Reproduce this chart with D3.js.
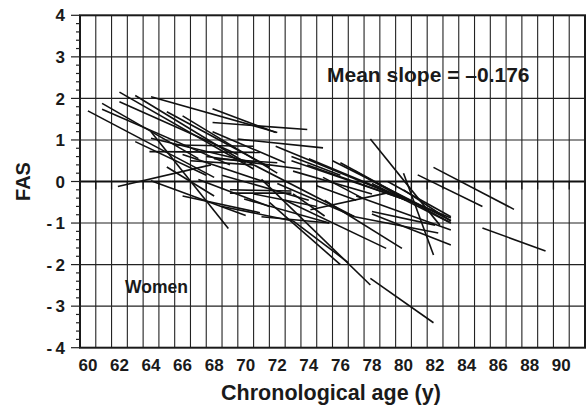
<!DOCTYPE html>
<html><head><meta charset="utf-8">
<script src="https://cdn.jsdelivr.net/npm/d3@7"></script>
<style>
html,body{margin:0;padding:0;background:#fff;}
svg{display:block;font-family:"Liberation Sans",Arial,Helvetica,sans-serif;}
</style></head>
<body>
<svg id="chart" width="587" height="408"></svg>
<script>
// Individual longitudinal segments (women): start age, start FAS, end age, end FAS
const ageStart = [60.0,60.9,60.9,62.0,62.0,63.0,64.0,65.0,66.0,67.9,67.9,67.9,69.5,63.0,64.0,63.9,65.5,61.9,64.0,64.0,65.0,66.5,69.0,69.0,69.9,71.0,71.0,71.5,67.5,68.0,66.0,68.5,67.0,70.0,71.9,72.9,73.9,76.9,74.9,72.9,74.0,75.5,76.0,78.0,77.0,78.0,78.0,74.1,72.5,75.0,77.9,80.9,81.9,85.0,77.9,79.0,80.0,73.0,74.5,72.0,73.0,76.9,66.0,68.5,73.0,70.5,80.0];
const fasStart = [1.70,1.88,1.74,2.15,1.92,2.07,2.04,1.68,1.58,1.75,1.42,1.20,1.02,0.96,1.04,0.72,0.88,-0.12,0.02,1.20,0.35,0.50,-0.20,-0.28,-0.42,-0.85,0.05,-0.50,0.60,0.55,0.65,0.15,0.05,0.50,0.85,0.50,0.40,0.26,0.10,0.60,0.55,0.50,0.45,-0.05,-0.35,-0.72,-0.78,-0.68,-0.45,-0.45,1.02,0.16,0.34,-1.12,-2.33,0.00,-0.20,0.25,-0.10,-0.05,-0.30,-0.85,-0.35,-0.60,-0.95,-0.30,0.20];
const ageEnd   = [68.0,67.0,69.0,70.5,69.5,70.0,72.0,71.5,72.0,71.9,73.9,72.5,74.9,67.5,70.0,70.9,70.5,67.8,70.0,68.9,68.0,70.5,72.9,72.9,75.3,75.3,77.9,76.0,73.5,72.0,71.5,74.0,71.5,76.9,80.2,80.2,80.2,80.2,77.4,76.0,83.0,83.0,83.0,83.0,83.0,82.0,83.0,78.9,78.9,79.9,82.3,85.0,87.0,89.0,81.9,83.0,83.0,78.0,77.0,76.9,75.0,82.2,70.9,73.0,76.5,74.5,81.9];
const fasEnd   = [0.10,0.55,0.40,0.30,0.65,0.45,1.18,0.35,0.20,1.18,1.25,0.45,0.81,0.15,0.50,0.70,0.85,0.40,-0.82,-1.13,-0.35,0.40,-0.23,-0.28,-1.00,-1.00,-2.49,-2.00,0.30,0.45,-0.05,-0.45,-0.60,-0.85,-0.45,-0.45,-0.45,-0.45,-0.40,0.15,-0.88,-0.94,-1.00,-1.00,-1.17,-1.05,-1.53,-0.28,-1.61,-1.61,-1.05,-0.60,-0.67,-1.67,-3.40,-0.85,-0.95,-0.30,-0.45,-0.85,-0.83,-1.24,-0.75,-0.95,-1.95,-0.60,-1.77];

const xTickLabels = [60,62,64,66,68,70,72,74,76,78,80,82,84,86,88,90];
const yTickLabels = [4,3,2,1,0,-1,-2,-3,-4];
const xTitle = "Chronological age (y)";
const yTitle = "FAS";
const slopeNote = "Mean slope = \u20130.176";
const groupNote = "Women";

const svg = d3.select("#chart");
const L = 80, R = 585, T = 15.3, B = 347.7;
const x = d3.scaleLinear().domain([59.5, 91.5]).range([L, R]);
const y = d3.scaleLinear().domain([-4, 4]).range([B, T]);

const g = svg.append("g");

// vertical grid lines at half years
const vGrid = d3.range(60.5, 91.5, 1);
g.selectAll("line.vg").data(vGrid).enter().append("line")
  .attr("x1", d => x(d)).attr("x2", d => x(d))
  .attr("y1", T).attr("y2", B)
  .attr("stroke", "#222").attr("stroke-width", 1.1);

// horizontal grid lines
g.selectAll("line.hg").data([3,2,1,-1,-2,-3]).enter().append("line")
  .attr("x1", L).attr("x2", R)
  .attr("y1", d => y(d)).attr("y2", d => y(d))
  .attr("stroke", "#222").attr("stroke-width", 1.1);

// zero axis with small ticks
g.append("line").attr("x1", L).attr("x2", R).attr("y1", y(0)).attr("y2", y(0))
  .attr("stroke", "#111").attr("stroke-width", 2);
g.selectAll("line.zt").data(vGrid).enter().append("line")
  .attr("x1", d => x(d)).attr("x2", d => x(d))
  .attr("y1", y(0)).attr("y2", y(0) + 8)
  .attr("stroke", "#111").attr("stroke-width", 1.3);

// data segments
const idx = d3.range(ageStart.length);
g.selectAll("line.seg").data(idx).enter().append("line")
  .attr("x1", i => x(ageStart[i])).attr("y1", i => y(fasStart[i]))
  .attr("x2", i => x(ageEnd[i])).attr("y2", i => y(fasEnd[i]))
  .attr("stroke", "#111").attr("stroke-width", 1.6).attr("stroke-linecap", "butt");

// frame
g.append("rect").attr("x", L).attr("y", T).attr("width", R - L).attr("height", B - T)
  .attr("fill", "none").attr("stroke", "#1a1a1a").attr("stroke-width", 2);

// y axis ticks (major + minor), drawn outward
const minor = d3.range(-4, 4.001, 0.2).map(v => Math.round(v * 10) / 10);
g.selectAll("line.ymt").data(minor).enter().append("line")
  .attr("x1", d => Number.isInteger(d) ? L - 9 : L - 4).attr("x2", L)
  .attr("y1", d => y(d)).attr("y2", d => y(d))
  .attr("stroke", "#222").attr("stroke-width", 1.2);

// y tick labels
g.selectAll("text.yl").data(yTickLabels).enter().append("text")
  .attr("x", 65).attr("y", d => y(d)).attr("dy", "0.36em")
  .attr("text-anchor", "end").attr("font-size", 17).attr("font-weight", "bold").attr("fill", "#1a1a1a")
  .text(d => d < 0 ? "-\u2009" + Math.abs(d) : String(d));

// x tick labels at integer ages
g.selectAll("text.xl").data(xTickLabels).enter().append("text")
  .attr("x", d => x(d)).attr("y", 371)
  .attr("text-anchor", "middle").attr("font-size", 17).attr("font-weight", "bold").attr("fill", "#1a1a1a")
  .text(d => d);

// axis titles
svg.append("text").attr("x", 331).attr("y", 400).attr("text-anchor", "middle")
  .attr("font-size", 21.5).attr("font-weight", "bold").attr("fill", "#1a1a1a").text(xTitle);
svg.append("text").attr("transform", "translate(30," + ((T + B) / 2) + ") rotate(-90)")
  .attr("text-anchor", "middle").attr("font-size", 20).attr("font-weight", "bold").attr("fill", "#1a1a1a").text(yTitle);

// annotations
svg.append("text").attr("x", 327).attr("y", 82).attr("font-size", 21).attr("font-weight", "bold")
  .attr("fill", "#1a1a1a").text(slopeNote);
svg.append("text").attr("x", 125).attr("y", 293).attr("font-size", 17.5).attr("font-weight", "bold")
  .attr("fill", "#1a1a1a").text(groupNote);
</script>
</body></html>
